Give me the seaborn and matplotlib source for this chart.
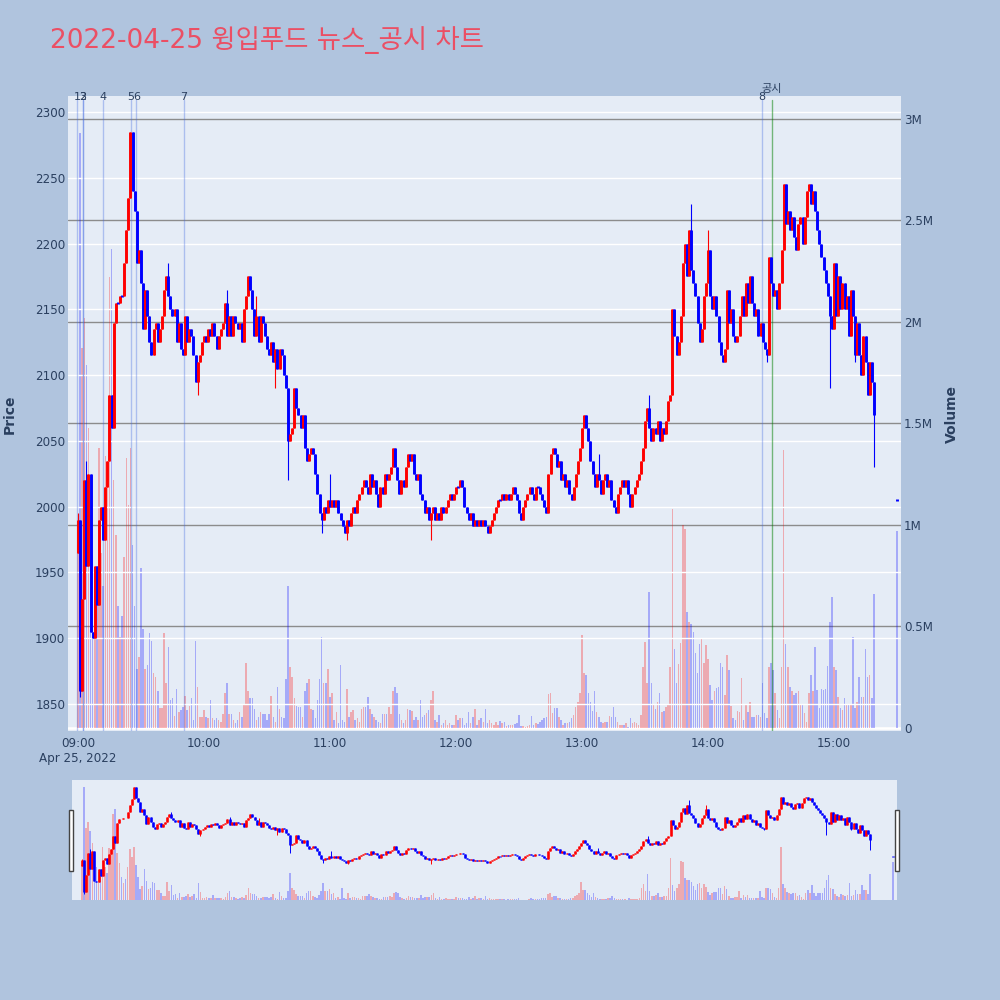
import numpy as np
import pandas as pd
import seaborn as sns
import matplotlib.pyplot as plt
from matplotlib.patches import Rectangle
from matplotlib.transforms import blended_transform_factory

# 1분봉 종가 (09:00 ~ 15:19), 시가는 직전 봉의 종가
first_open = 1965
closes = [
    1990, 1860, 1930, 2020, 1955, 2025, 1905, 1900, 1955, 1925, 1990, 2000, 1975, 2015, 2035, 2085,
    2060, 2140, 2155, 2155, 2160, 2160, 2185, 2210, 2235, 2285,
    2240, 2225, 2185, 2195, 2170, 2135, 2165, 2145, 2125, 2115, 2135, 2140, 2125, 2135, 2145, 2165,
    2175, 2160, 2150, 2145, 2150, 2125, 2140, 2120, 2115, 2145, 2125, 2135, 2130, 2115, 2095, 2110,
    2115, 2125, 2130, 2125, 2135, 2130,
    2140, 2130, 2120, 2130, 2135, 2140, 2155, 2130, 2145, 2130, 2145, 2140, 2135, 2140, 2125, 2150,
    2160, 2175, 2165, 2150, 2130, 2145, 2125, 2145, 2140, 2130, 2120, 2115, 2125, 2110, 2120, 2105,
    2120, 2115, 2100, 2090,
    2050, 2055, 2060, 2090, 2075, 2070, 2060, 2070, 2045, 2035, 2040, 2045, 2040, 2025, 2010, 1995,
    1990, 2000, 1995, 2005, 2000, 2005, 2000, 2005, 1995, 1990, 1985, 1980, 1990, 1985, 1995, 2000,
    1995, 2005, 2010, 2015, 2020, 2015, 2010, 2025,
    2015, 2020, 2010, 2000, 2015, 2010, 2025, 2020, 2025, 2030, 2045, 2030, 2020, 2010, 2020, 2015,
    2030, 2040, 2035, 2040, 2025, 2020, 2025, 2010, 2005, 1995, 2000, 1990, 1995, 2000, 1990, 1995,
    1990, 2000, 1995, 2000, 2005, 2010, 2005, 2010,
    2015, 2015, 2020, 2015, 2000, 1995, 1990, 1995, 1985, 1990, 1985, 1990, 1985, 1990, 1985, 1980,
    1985, 1990, 1995, 2000, 2005, 2005, 2010, 2005, 2010, 2005, 2010, 2015, 2010, 2005, 1995, 1990,
    2000, 2005, 2010, 2015, 2010, 2005, 2015, 2015, 2010, 2005, 2000, 1995,
    2025, 2040, 2045, 2040, 2030, 2035, 2020, 2025, 2015, 2020, 2010, 2005, 2015, 2025, 2035, 2045,
    2060, 2070, 2060, 2050, 2035, 2025, 2015, 2025, 2020, 2010, 2020, 2025, 2015, 2020, 2005, 2000,
    1995, 2010, 2015, 2020, 2015, 2020, 2010, 2000,
    2010, 2015, 2020, 2025, 2035, 2045, 2065, 2075, 2060, 2050, 2060, 2055, 2065, 2050, 2060, 2055,
    2065, 2080, 2085, 2150, 2130, 2115, 2125, 2145, 2185, 2200, 2175, 2210, 2180, 2170, 2160, 2140,
    2125, 2135, 2160, 2170,
    2195, 2160, 2150, 2160, 2145, 2125, 2115, 2110, 2120, 2165, 2140, 2150, 2130, 2125, 2130, 2145,
    2160, 2145, 2170, 2155, 2175, 2155,
    2145, 2150, 2130, 2140, 2125, 2120, 2115, 2190, 2170, 2160, 2165, 2150, 2170, 2195, 2245, 2215,
    2225, 2210, 2220, 2205, 2195, 2215, 2220, 2200, 2220, 2240, 2245, 2230, 2240, 2225, 2210, 2200,
    2190, 2180, 2170, 2160, 2145, 2135, 2185, 2145, 2175, 2150, 2170, 2150, 2160, 2130, 2165, 2145,
    2115, 2140, 2115, 2100, 2130, 2110, 2085, 2110, 2095, 2070,
]

# 1분 거래량 (백만 주)
volumes = [
    0.9, 2.93, 1.87, 2.02, 1.79, 1.48, 1.05, 0.85, 0.73, 0.6, 1.38, 0.86, 0.7, 1.34, 1.2, 2.22,
    2.36, 1.22, 0.95, 0.6, 0.45, 0.55, 0.84, 1.33, 1.1, 1.38,
    0.9, 0.6, 0.29, 0.35, 0.79, 0.49, 0.29, 0.31, 0.47, 0.43, 0.27, 0.25, 0.18, 0.10, 0.10, 0.47,
    0.22, 0.40, 0.14, 0.15, 0.06, 0.19, 0.08, 0.09, 0.105, 0.16, 0.09, 0.11, 0.15, 0.04, 0.43, 0.20,
    0.055, 0.055, 0.09, 0.055, 0.048, 0.14,
    0.048, 0.04, 0.048, 0.04, 0.03, 0.07, 0.17, 0.22, 0.07, 0.07, 0.04, 0.023, 0.04, 0.08, 0.055, 0.12,
    0.32, 0.18, 0.15, 0.15, 0.095, 0.04, 0.055, 0.08, 0.07, 0.07, 0.04, 0.07, 0.16, 0.055, 0.03, 0.2,
    0.095, 0.055, 0.048, 0.24,
    0.7, 0.3, 0.25, 0.15, 0.11, 0.105, 0.105, 0.055, 0.18, 0.22, 0.24, 0.095, 0.09, 0.048, 0.14, 0.24,
    0.45, 0.22, 0.22, 0.29, 0.155, 0.17, 0.04, 0.08, 0.023, 0.31, 0.04, 0.03, 0.19, 0.055, 0.08, 0.09,
    0.04, 0.048, 0.03, 0.095, 0.105, 0.105, 0.155, 0.095,
    0.07, 0.055, 0.04, 0.03, 0.023, 0.07, 0.07, 0.07, 0.105, 0.07, 0.18, 0.2, 0.17, 0.07, 0.04, 0.023,
    0.04, 0.095, 0.09, 0.085, 0.04, 0.055, 0.04, 0.14, 0.055, 0.065, 0.075, 0.09, 0.14, 0.18, 0.04, 0.03,
    0.065, 0.015, 0.023, 0.04, 0.015, 0.023, 0.015, 0.015,
    0.065, 0.04, 0.048, 0.048, 0.015, 0.023, 0.08, 0.023, 0.055, 0.095, 0.015, 0.04, 0.048, 0.03, 0.095, 0.023,
    0.04, 0.023, 0.015, 0.031, 0.015, 0.034, 0.023, 0.031, 0.01, 0.015, 0.015, 0.015, 0.02, 0.026, 0.062, 0.01,
    0.01, 0.007, 0.01, 0.015, 0.059, 0.015, 0.023, 0.02, 0.031, 0.039, 0.05, 0.056,
    0.166, 0.171, 0.072, 0.097, 0.1, 0.053, 0.039, 0.015, 0.023, 0.023, 0.031, 0.048, 0.064, 0.105, 0.13, 0.171,
    0.458, 0.27, 0.26, 0.171, 0.13, 0.085, 0.18, 0.08, 0.053, 0.031, 0.026, 0.031, 0.031, 0.059, 0.056, 0.105,
    0.056, 0.031, 0.015, 0.013, 0.015, 0.023, 0.007, 0.048,
    0.026, 0.031, 0.023, 0.015, 0.064, 0.3, 0.425, 0.22, 0.67, 0.22, 0.113, 0.092, 0.13, 0.174, 0.08, 0.085,
    0.105, 0.113, 0.3, 1.08, 0.39, 0.22, 0.315, 0.417, 1.0, 0.98, 0.57, 0.52, 0.51, 0.475, 0.37, 0.27,
    0.414, 0.44, 0.32, 0.41,
    0.34, 0.21, 0.138, 0.18, 0.195, 0.2, 0.32, 0.3, 0.163, 0.36, 0.286, 0.108, 0.048, 0.039, 0.085, 0.08,
    0.245, 0.039, 0.118, 0.08, 0.13, 0.056,
    0.056, 0.064, 0.062, 0.056, 0.223, 0.072, 0.048, 0.3, 0.32, 0.286, 0.17, 0.089, 0.048, 0.3, 1.37, 0.414,
    0.3, 0.203, 0.18, 0.163, 0.171, 0.184, 0.113, 0.118, 0.072, 0.03, 0.171, 0.26, 0.18, 0.397, 0.187, 0.097,
    0.19, 0.187, 0.19, 0.307, 0.52, 0.647, 0.3, 0.286, 0.154, 0.097, 0.089, 0.146, 0.12, 0.113, 0.12, 0.45,
    0.097, 0.13, 0.25, 0.151, 0.154, 0.39, 0.253, 0.26, 0.15, 0.66,
]

# 15:30 종가 단일가
auction_minute = 390
auction_price = 2005
auction_volume = 0.97

# 몸통 밖으로 나온 꼬리 (분 인덱스: 가격)
wick_high = {0: 1995, 4: 2035, 43: 2185, 71: 2165, 85: 2160, 120: 2025,
             248: 2040, 272: 2085, 292: 2230, 300: 2210}
wick_low = {1: 1855, 57: 2085, 94: 2090, 100: 2020, 116: 1980, 128: 1975,
            168: 1975, 328: 2110, 358: 2090, 370: 2110, 379: 2030}

# 뉴스 / 공시 시각
news_labels = ["1", "2", "3", "4", "5", "6", "7", "8"]
news_times = ["08:59:40", "09:02:10", "09:02:10", "09:11:50", "09:25:10",
              "09:27:50", "09:50:30", "14:25:40"]
disclosure_label = "공시"
disclosure_time = "14:30:20"

price_ticks = [1850, 1900, 1950, 2000, 2050, 2100, 2150, 2200, 2250, 2300]
volume_ticks = [0, 0.5, 1, 1.5, 2, 2.5, 3]
volume_tick_labels = ["0", "0.5M", "1M", "1.5M", "2M", "2.5M", "3M"]
hour_labels = ["09:00", "10:00", "11:00", "12:00", "13:00", "14:00", "15:00"]

title = "2022-04-25 윙입푸드 뉴스_공시 차트"


def to_minute(s):
    parts = [int(p) for p in s.split(":")]
    sec = parts[2] if len(parts) > 2 else 0
    return (parts[0] - 9) * 60 + parts[1] + sec / 60


df = pd.DataFrame({
    "minute": list(range(len(closes))) + [auction_minute],
    "open": [first_open] + closes[:-1] + [auction_price],
    "close": closes + [auction_price],
    "volume": volumes + [auction_volume],
})
df["body_lo"] = df[["open", "close"]].min(axis=1).astype(float)
df["body_hi"] = df[["open", "close"]].max(axis=1).astype(float)
df["low"] = df["body_lo"]
df["high"] = df["body_hi"]
for k, v in wick_low.items():
    df.loc[k, "low"] = min(v, df.loc[k, "body_lo"])
for k, v in wick_high.items():
    df.loc[k, "high"] = max(v, df.loc[k, "body_hi"])
df["dir"] = np.where(df["close"] > df["open"], "up", "down")
flat = (df["body_hi"] - df["body_lo"]) < 1
df.loc[flat, "body_lo"] -= 0.8
df.loc[flat, "body_hi"] += 0.8

PALETTE = {"up": "#ff0000", "down": "#0000ff"}
PLOT_BG = "#E5ECF6"
PAGE_BG = "#B0C4DE"
TEXT = "#2a3f5f"
XLIM = (-4.76, 391.9)
PLIM = (1829.5, 2312.2)

sns.set_theme(style="white")
plt.rcParams["font.family"] = ["DejaVu Sans", "Noto Sans CJK KR"]


def draw_panel(ax_p, ax_v, body_w, wick_w, vlim):
    ax_v.set_zorder(0)
    ax_p.set_zorder(1)
    ax_p.patch.set_visible(False)
    ax_v.patch.set_visible(True)
    ax_v.patch.set_facecolor(PLOT_BG)
    sns.barplot(data=df, x="minute", y="volume", hue="dir", palette=PALETTE,
                native_scale=True, errorbar=None, saturation=1, alpha=0.28,
                linewidth=0, width=0.75, legend=False, ax=ax_v)
    colors = df["dir"].map(PALETTE).tolist()
    ax_p.vlines(df["minute"], df["low"], df["high"], colors=colors,
                linewidth=wick_w, zorder=3)
    ax_p.vlines(df["minute"], df["body_lo"], df["body_hi"], colors=colors,
                linewidth=body_w, zorder=4)
    ax_p.set_xlim(*XLIM)
    ax_p.set_ylim(*PLIM)
    ax_v.set_ylim(*vlim)
    ax_v.set_xlabel("")
    ax_v.set_ylabel("")
    for a in (ax_p, ax_v):
        for s in a.spines.values():
            s.set_visible(False)


fig = plt.figure(figsize=(10, 10), dpi=100, facecolor=PAGE_BG)

# 메인 차트
ax_p = fig.add_axes([0.068, 0.269, 0.833, 0.635])
ax_v = ax_p.twinx()
draw_panel(ax_p, ax_v, 2.1, 0.8, (-0.0148, 3.113))

ax_v.set_yticks(volume_ticks)
ax_v.set_yticklabels(volume_tick_labels)
ax_v.grid(axis="y", color="#8c8c8c", linewidth=1.0)
ax_v.grid(axis="x", visible=False)
ax_v.set_axisbelow(True)
ax_v.axhline(0, color="white", linewidth=2, zorder=0.6)

ax_p.set_yticks(price_ticks)
ax_p.grid(axis="y", color="white", linewidth=1.0)
ax_p.grid(axis="x", visible=False)
ax_p.set_axisbelow(True)
ax_p.set_xticks([i * 60 for i in range(len(hour_labels))])
ax_p.set_xticklabels([hour_labels[0] + "\nApr 25, 2022"] + hour_labels[1:])

ax_p.tick_params(axis="y", length=0, pad=2, labelsize=8.6, labelcolor=TEXT)
ax_v.tick_params(axis="y", length=0, pad=2, labelsize=8.6, labelcolor=TEXT)
ax_p.tick_params(axis="x", length=0, pad=4, labelsize=8.6, labelcolor=TEXT)

trans = blended_transform_factory(ax_p.transData, ax_p.transAxes)
for lab, t in zip(news_labels, news_times):
    x = to_minute(t)
    ax_p.axvline(x, ymin=0, ymax=0.993, color="royalblue", alpha=0.35,
                 linewidth=1.0, zorder=2)
    ax_p.text(x, 0.998, lab, transform=trans, ha="center", va="center",
              fontsize=8, color=TEXT, zorder=6)
xd = to_minute(disclosure_time)
ax_p.axvline(xd, ymin=0, ymax=0.993, color="green", alpha=0.5,
             linewidth=1.0, zorder=2)
ax_p.text(xd, 1.011, disclosure_label, transform=trans, ha="center",
          va="center", fontsize=8, color=TEXT, zorder=6)

# 범위 슬라이더
ax_s = fig.add_axes([0.072, 0.10, 0.825, 0.12])
ax_sv = ax_s.twinx()
draw_panel(ax_s, ax_sv, 1.9, 0.7, (0, 3.10))
for a in (ax_s, ax_sv):
    a.set_xticks([])
    a.set_yticks([])
    a.grid(False)
for hx in (0.0693, 0.895):
    fig.patches.append(Rectangle((hx, 0.129), 0.004, 0.061, transform=fig.transFigure,
                                 facecolor="white", edgecolor="#444444",
                                 linewidth=1.0, zorder=10))

fig.text(0.05, 0.96, title, fontsize=19, color="#EB4F64", ha="left", va="center")
fig.text(0.010, 0.586, "Price", rotation=90, ha="center", va="center",
         fontsize=10, fontweight="bold", color=TEXT)
fig.text(0.952, 0.586, "Volume", rotation=90, ha="center", va="center",
         fontsize=10, fontweight="bold", color=TEXT)

fig.savefig("out.png", dpi=100, facecolor=fig.get_facecolor())
